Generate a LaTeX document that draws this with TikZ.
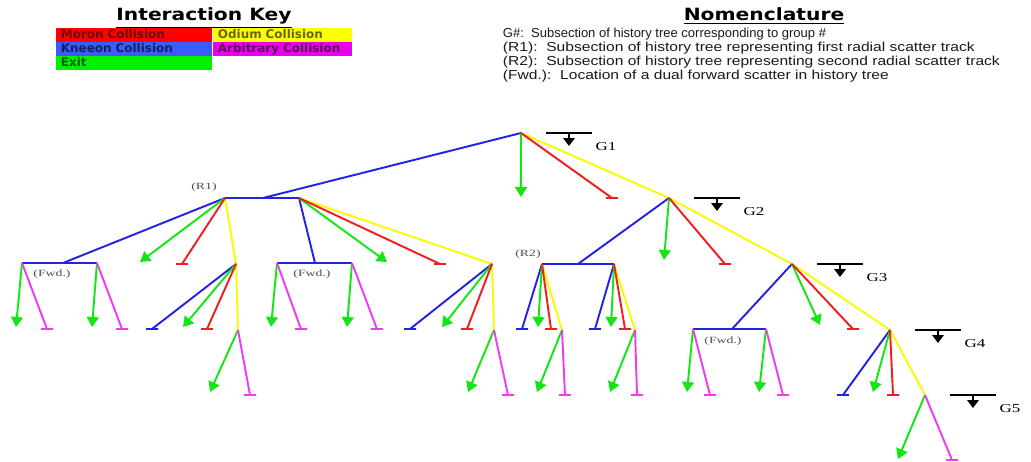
\documentclass[tikz,border=0pt]{standalone}
\usepackage{fontspec}
\setmainfont{Liberation Serif}
\setsansfont{Liberation Sans}
\newfontfamily\keyfont{DejaVu Sans}
\usetikzlibrary{arrows.meta, calc}

% tree line colours
\definecolor{moronred}{RGB}{240,30,30}
\definecolor{kneeonblue}{RGB}{35,35,225}
\definecolor{odiumyellow}{RGB}{250,250,0}
\definecolor{arbmagenta}{RGB}{240,60,240}
\definecolor{exitgreen}{RGB}{20,230,20}
% key boxes are a bit brighter
\definecolor{keyred}{RGB}{255,0,0}
\definecolor{keyblue}{RGB}{60,90,255}
\definecolor{keygreen}{RGB}{0,240,0}
\definecolor{keyyellow}{RGB}{255,255,0}
\definecolor{keymagenta}{RGB}{235,0,235}

\newcommand{\hwide}[2]{\scalebox{#1}[1]{#2}}

\begin{document}
\begin{tikzpicture}[x=0.02cm, y=-0.02cm, line width=1.1pt,
	tee/.style={to path={-- (\tikztotarget) +(-6,0) -- +(6,0)}},
	exit/.style={draw=exitgreen, -{Triangle[width=6.8pt,length=5.7pt]}},
	moron/.style={draw=moronred, tee},
	kneeon/.style={draw=kneeonblue, tee},
	arbitrary/.style={draw=arbmagenta, tee},
	odium/.style={draw=odiumyellow},
	track/.style={draw=kneeonblue},
	gmark/.style={draw=black, line width=1pt},
	glabel/.style={font=\fontsize{6.9}{8}\selectfont, inner sep=0pt},
	tracktag/.style={font=\fontsize{5.4}{6}\selectfont, text=black!70, inner sep=0pt},
	headline/.style={font=\keyfont\bfseries\fontsize{9.6}{11}\selectfont, inner sep=0pt, anchor=base},
	keybox/.style={anchor=north west, inner xsep=0.1cm, inner ysep=0pt,
		minimum height=0.28cm, text width=#1, text height=5pt, text depth=1.4pt,
		align=left, font=\keyfont\bfseries\fontsize{6.8}{7}\selectfont},
	nomline/.style={anchor=base west, inner sep=0pt, font=\sffamily\fontsize{7.4}{8}\selectfont, text=black!90}]
	\useasboundingbox (0,0) rectangle (1031,462);
	% interaction key
	\node[headline] (keyhead) at (204,21) {\hwide{1.2}{\underline{Interaction Key}}};
	\node[keybox=2.92cm, fill=keyred, text=keyred!45!black] (kmoron) at (55,27) {Moron Collision};
	\node[keybox=2.92cm, fill=keyblue, text=keyblue!35!black] (kkneeon) at (55,41) {Kneeon Collision};
	\node[keybox=2.92cm, fill=keygreen, text=keygreen!40!black] (kexit) at (55,55) {Exit};
	\node[keybox=2.58cm, fill=keyyellow, text=keyyellow!40!black] (kodium) at (212,27) {Odium Collision};
	\node[keybox=2.58cm, fill=keymagenta, text=keymagenta!40!black] (karb) at (212,41) {Arbitrary Collision};
	% nomenclature
	\node[headline] (nomhead) at (764,21) {\hwide{1.2}{\underline{Nomenclature}}};
	\node[nomline] (nomg) at (502,37.5) {G\#:\ \ Subsection of history tree corresponding to group \#};
	\node[nomline] (nomr1) at (502,51.5) {\hwide{1.2}{(R1):\ \ Subsection of history tree representing first radial scatter track}};
	\node[nomline] (nomr2) at (502,65.5) {\hwide{1.2}{(R2):\ \ Subsection of history tree representing second radial scatter track}};
	\node[nomline] (nomfwd) at (502,79.5) {\hwide{1.2}{(Fwd.):\ \ Location of a dual forward scatter in history tree}};
	% group nodes along the odium chain
	\coordinate (g1) at (521,133);
	\coordinate (g2) at (669,198);
	\coordinate (g3) at (792,264);
	\coordinate (g4) at (890,330);
	\coordinate (g5) at (925,395);
	% radial scatter tracks (bar ends and where the blue line meets them)
	\coordinate (r1a) at (225,198);
	\coordinate (r1b) at (299,198);
	\coordinate (r1m) at (263,198);
	\coordinate (r2a) at (542,264);
	\coordinate (r2b) at (614,264);
	\coordinate (r2m) at (578,264);
	% dual forward scatters
	\coordinate (f1a) at (22,263);
	\coordinate (f1b) at (97,263);
	\coordinate (f1m) at (63,263);
	\coordinate (f2a) at (277,263);
	\coordinate (f2b) at (352,263);
	\coordinate (f2m) at (315,263);
	\coordinate (f3a) at (693,329);
	\coordinate (f3b) at (766,329);
	\coordinate (f3m) at (732,329);
	% odium nodes inside the tracks
	\coordinate (n1) at (236,264);
	\coordinate (n2) at (492,264);
	\coordinate (n3) at (238,330);
	\coordinate (n4) at (494,330);
	\coordinate (n5) at (562,330);
	\coordinate (n6) at (635,330);
	% odium lines first, the rest goes over them
	\draw[odium] (g1) -- (g2) -- (g3) -- (g4) -- (g5);
	\draw[odium] (r1a) -- (n1) -- (n3);
	\draw[odium] (r1b) -- (n2) -- (n4);
	\draw[odium] (r2a) -- (n5);
	\draw[odium] (r2b) -- (n6);
	% blue links and bars
	\draw[track] (g1) -- (r1m);
	\draw[track] (r1a) -- (r1b);
	\draw[track] (r1a) -- (f1m);
	\draw[track] (f1a) -- (f1b);
	\draw[track] (r1b) -- (f2m);
	\draw[track] (f2a) -- (f2b);
	\draw[track] (g2) -- (r2m);
	\draw[track] (r2a) -- (r2b);
	\draw[track] (g3) -- (f3m);
	\draw[track] (f3a) -- (f3b);
	% end branches: parent / end point / interaction
	\foreach \from/\x/\y/\kind [count=\i] in {
		g1/521/197/exit, g1/612/198/moron,
		r1a/140/262/exit, r1a/182/264/moron,
		r1b/387/262/exit, r1b/440/264/moron,
		f1a/16/327/exit, f1a/47/329/arbitrary,
		f1b/92/327/exit, f1b/122/329/arbitrary,
		n1/152/329/kneeon, n1/183/327/exit, n1/207/329/moron,
		n3/210/392/exit, n3/250/395/arbitrary,
		f2a/271/327/exit, f2a/301/329/arbitrary,
		f2b/347/327/exit, f2b/377/329/arbitrary,
		n2/410/329/kneeon, n2/442/327/exit, n2/467/329/moron,
		n4/468/392/exit, n4/508/395/arbitrary,
		g2/664/260/exit, g2/725/264/moron,
		r2a/522/329/kneeon, r2a/538/327/exit, r2a/551/329/moron,
		n5/537/392/exit, n5/565/395/arbitrary,
		r2b/595/329/kneeon, r2b/611/327/exit, r2b/625/329/moron,
		n6/610/392/exit, n6/637/395/arbitrary,
		g3/820/325/exit, g3/853/329/moron,
		f3a/687/392/exit, f3a/710/395/arbitrary,
		f3b/759/392/exit, f3b/783/395/arbitrary,
		g4/843/395/kneeon, g4/873/392/exit, g4/893/395/moron,
		g5/898/459/exit, g5/952/460/arbitrary} {
		\coordinate (leaf\i) at (\x,\y);
		\draw[\kind] (\from) to (leaf\i);
	}
	% group markers
	\foreach \i in {1,...,5} {
		\draw[gmark] ($(g\i)+(25,0)$) -- ++(46,0);
		\draw[gmark, -{Triangle[width=6.5pt,length=4.5pt]}] ($(g\i)+(48,0)$) -- ++(0,13);
		\node[glabel] (glab\i) at ($(g\i)+(85,14)$) {\hwide{1.4}{G\i}};
	}
	% track labels
	\node[tracktag] (r1tag) at (204,187) {\hwide{1.45}{(R1)}};
	\node[tracktag] (r2tag) at (528,254) {\hwide{1.45}{(R2)}};
	\node[tracktag] (fwd1) at (52,274) {\hwide{1.45}{(Fwd.)}};
	\node[tracktag] (fwd2) at (312,274) {\hwide{1.45}{(Fwd.)}};
	\node[tracktag] (fwd3) at (723,341) {\hwide{1.45}{(Fwd.)}};
\end{tikzpicture}
\end{document}
